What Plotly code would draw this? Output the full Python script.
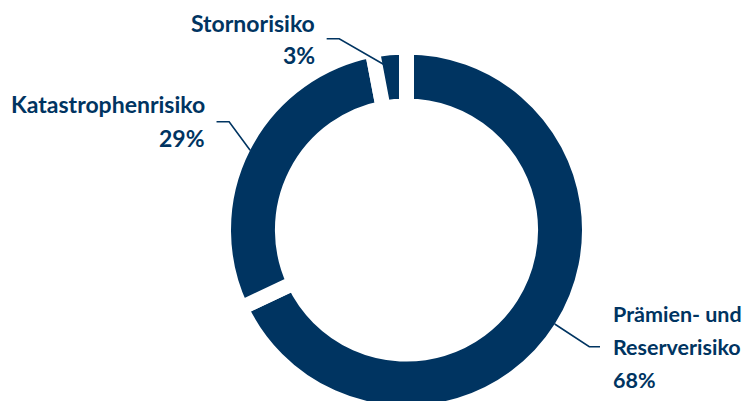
import math
import plotly.graph_objects as go

# data
labels = ["Prämien- und Reserverisiko", "Katastrophenrisiko", "Stornorisiko"]
shares = [68, 29, 3]
label_lines = [["Prämien- und", "Reserverisiko", "68%"],
               ["Katastrophenrisiko", "29%"],
               ["Stornorisiko", "3%"]]

NAVY = "#003461"
W, H = 750, 420   # figure a bit taller than the window: ring runs off the bottom edge
GAP = 15          # white gap between slices (px)

# ring geometry (figure pixels, from top-left)
cx, cy = 398.5, 222
R = 183           # path radius, visible ring edge is R - GAP/2
hole = 0.678


def to_paper(x, y):
    return x / W, 1 - y / H


dom_x = [(cx - R) / W, (cx + R) / W]
dom_y = [(H - cy - R) / H, (H - cy + R) / H]

fig = go.Figure(go.Pie(
    labels=labels, values=shares, sort=False, direction="clockwise",
    rotation=0, hole=hole, textinfo="none", hoverinfo="label+percent",
    marker=dict(colors=[NAVY] * len(shares), line=dict(color="white", width=GAP)),
    domain=dict(x=dom_x, y=dom_y), showlegend=False,
))

# mid angle of each slice (deg clockwise from 12 o'clock), from the data
total = sum(shares)
mids = []
acc = 0
for v in shares:
    mids.append((acc + v / 2) / total * 360)
    acc += v


def ring_point(angle, r):
    a = math.radians(angle)
    return cx + r * math.sin(a), cy - r * math.cos(a)


# label layout: leader start radius, elbow offset, horizontal run, text x, first line y, side
label_style = [
    dict(r=R - GAP / 2, elbow=(34.6, 22.7), run=10.7, tx=603, ty=306, lh=33, size=21.5, side="left"),
    dict(r=R - GAP / 2, elbow=(-21, -28.6), run=-12.6, tx=199, ty=96, lh=34, size=23, side="right"),
    dict(r=162, elbow=(-52, -30), run=-12.6, tx=308.5, ty=15, lh=32, size=23, side="right"),
]

shapes = []
annotations = []
for lines, mid, st in zip(label_lines, mids, label_style):
    x0, y0 = ring_point(mid, st["r"])
    x1, y1 = x0 + st["elbow"][0], y0 + st["elbow"][1]
    x2 = x1 + st["run"]
    p0, p1, p2 = to_paper(x0, y0), to_paper(x1, y1), to_paper(x2, y1)
    shapes.append(dict(
        type="path", xref="paper", yref="paper", layer="above",
        path=f"M {p0[0]} {p0[1]} L {p1[0]} {p1[1]} L {p2[0]} {p2[1]}",
        line=dict(color=NAVY, width=1.6),
    ))
    for i, txt in enumerate(lines):
        ax, ay = to_paper(st["tx"], st["ty"] + i * st["lh"])
        annotations.append(dict(
            text=txt, xref="paper", yref="paper", showarrow=False,
            x=ax, y=ay,
            xanchor="left" if st["side"] == "left" else "right", yanchor="middle",
            font=dict(family="Lato", size=st["size"], color=NAVY, weight="bold"),
        ))

fig.update_layout(
    width=W, height=H, margin=dict(l=0, r=0, t=0, b=0),
    paper_bgcolor="white", plot_bgcolor="white",
    shapes=shapes, annotations=annotations,
)

fig.write_html("out.html")
